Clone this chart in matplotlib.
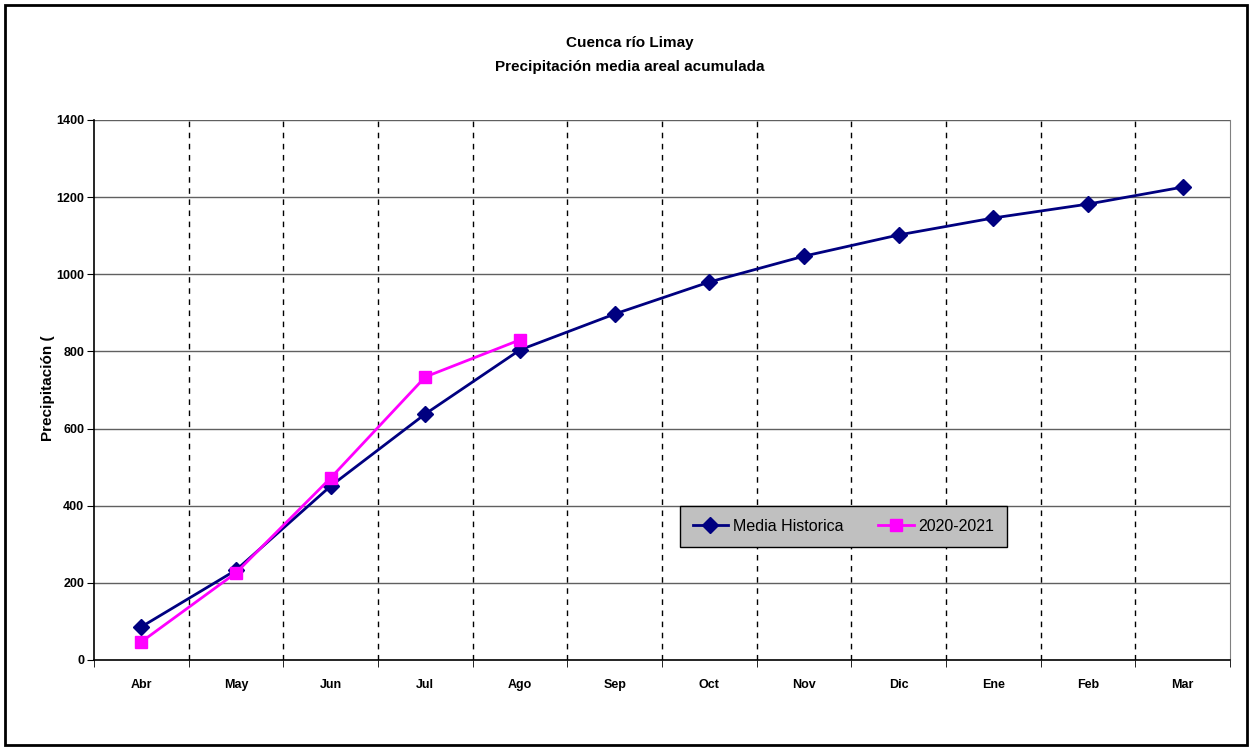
import numpy as np
import matplotlib
matplotlib.use('Agg')
import matplotlib.pyplot as plt
from matplotlib.patches import Rectangle

# data
months = ['Abr', 'May', 'Jun', 'Jul', 'Ago', 'Sep', 'Oct', 'Nov', 'Dic', 'Ene', 'Feb', 'Mar']
media_historica = [86, 233, 451, 638, 804, 897, 980, 1047, 1102, 1146, 1182, 1226]
serie_2020_2021 = [47, 226, 472, 734, 830]
y_ticks = [0, 200, 400, 600, 800, 1000, 1200, 1400]

plt.rcParams['font.family'] = ['Liberation Sans', 'DejaVu Sans']


def main():
    fig = plt.figure(figsize=(12.52, 7.49), dpi=100)
    # outer chart border
    fig.patches.append(Rectangle((5 / 1252, 4 / 749), 1242 / 1252, 740 / 749,
                                 transform=fig.transFigure, fill=False,
                                 edgecolor='black', linewidth=2))

    ax = fig.add_axes([94 / 1252, 89 / 749, 1136 / 1252, 540 / 749])
    x = np.arange(len(months))

    # grid: solid horizontal, dashed vertical at category boundaries
    for v in y_ticks[1:]:
        ax.axhline(v, color='#606060', linewidth=1, zorder=1)
    for b in np.arange(0.5, len(months) - 1, 1.0):
        ax.axvline(b, color='black', linewidth=1, linestyle=(0, (4, 4)), zorder=1)

    ax.plot(x, media_historica, color='#000080', linewidth=2, marker='D',
            markersize=8, label='Media Historica', zorder=3)
    ax.plot(x[:len(serie_2020_2021)], serie_2020_2021, color='#FF00FF', linewidth=2,
            marker='s', markersize=8, label='2020-2021', zorder=4)

    ax.set_xlim(-0.5, len(months) - 0.5)
    ax.set_ylim(0, 1400)
    ax.set_yticks(y_ticks)
    ax.set_yticklabels([str(v) for v in y_ticks], fontsize=9, fontweight='bold')
    ax.set_xticks(x)
    ax.set_xticklabels(months, fontsize=9, fontweight='bold')
    ax.set_xticks(np.arange(-0.5, len(months), 1.0), minor=True)
    ax.tick_params(axis='x', which='major', length=0, pad=14)
    ax.tick_params(axis='x', which='minor', length=5, direction='out')
    ax.tick_params(axis='y', length=5, direction='out', pad=2)

    ax.spines['top'].set_visible(False)
    ax.spines['right'].set_color('#808080')
    ax.spines['left'].set_linewidth(1.2)
    ax.spines['bottom'].set_linewidth(1.2)

    fig.text(48 / 1252, 1 - 388 / 749, 'Precipitación (', rotation=90,
             ha='center', va='center', fontsize=11, fontweight='bold')

    fig.text(630 / 1252, 1 - 43 / 749, 'Cuenca río Limay', ha='center', va='center',
             fontsize=11, fontweight='bold')
    fig.text(630 / 1252, 1 - 67 / 749, 'Precipitación media areal acumulada',
             ha='center', va='center', fontsize=11, fontweight='bold')

    leg = ax.legend(loc='center', bbox_to_anchor=(843.5 / 1252, 1 - 526.5 / 749),
                    bbox_transform=fig.transFigure, ncol=2, fontsize=11.5,
                    frameon=True, fancybox=False, facecolor='#C0C0C0',
                    edgecolor='black', framealpha=1, handlelength=2.2,
                    handletextpad=0.3, columnspacing=2.2, borderpad=0.8)
    leg.get_frame().set_linewidth(1)

    fig.savefig('out.png', dpi=100)


if __name__ == '__main__':
    main()
